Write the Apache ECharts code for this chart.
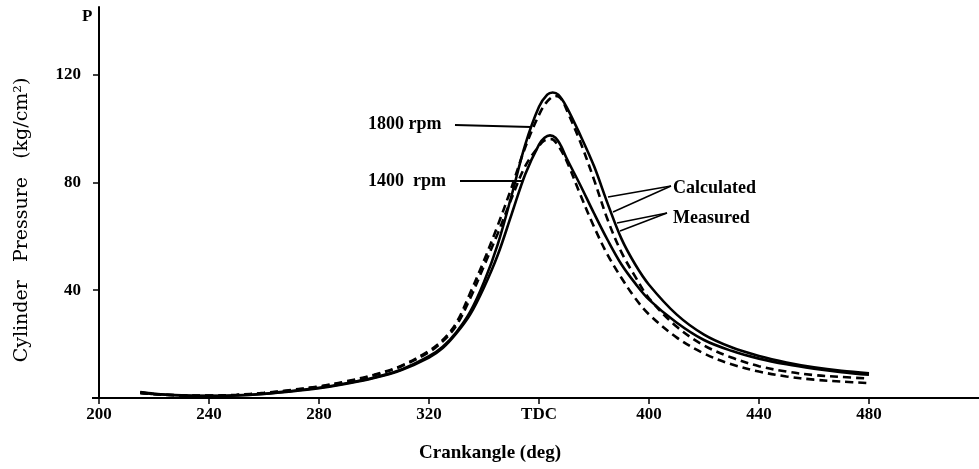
<!DOCTYPE html>
<html>
<head>
<meta charset="utf-8">
<script src="https://cdn.jsdelivr.net/npm/echarts@6/dist/echarts.min.js"></script>
<style>
html, body { margin: 0; padding: 0; background: #fff; }
#chart { width: 979px; height: 469px; }
</style>
</head>
<body>
<div id="chart"></div>
<script>
// crank angle (deg) and cylinder pressure (kg/cm2)
var ang1800Meas = [215,220,230,240,250,260,270,280,290,300,310,320,325,330,335,340,345,350,355,360,363,365,367,370,375,380,385,390,395,400,410,420,430,440,450,460,470,480];
var p1800Meas   = [2.2,1.6,1.0,0.8,1.0,1.6,2.6,3.8,5.5,7.6,10.6,15.5,19,24.5,32,43,57,75,94,108,112.5,113.3,112.5,108,97.5,86,72,59,49.5,42,31,23.5,18.8,15.6,13.2,11.4,10.1,9.2];

var ang1800Calc = [215,220,230,240,250,260,270,280,290,300,310,320,325,330,335,340,345,350,355,360,363,366,368,370,375,380,385,390,395,400,410,420,430,440,450,460,470,480];
var p1800Calc   = [2.0,1.5,1.0,0.9,1.2,1.9,3.0,4.3,6.2,8.6,12,17.5,21.5,28,39,51,64,78,93,105,110,112,111,107,95,81,66,54,45,37,26.5,19.5,15,11.8,9.8,8.5,7.8,7.2];

var ang1400Meas = [215,220,230,240,250,260,270,280,290,300,310,320,325,330,335,340,345,350,355,360,362,364,366,368,370,375,380,385,390,395,400,410,420,430,440,450,460,470,480];
var p1400Meas   = [2.0,1.5,0.9,0.7,0.9,1.5,2.4,3.6,5.3,7.4,10.4,15,18.5,24,31,41,53,68,83,94,96.5,97.4,96.5,93.5,89,79,68.5,58.5,49.5,42.5,36.5,28,21.5,17.5,14.6,12.5,10.9,9.6,8.6];

var ang1400Calc = [215,220,230,240,250,260,270,280,290,300,310,320,325,330,335,340,345,350,355,360,362,364.5,367,370,375,380,385,390,395,400,410,420,430,440,450,460,470,480];
var p1400Calc   = [1.8,1.4,0.9,0.8,1.1,1.8,2.9,4.2,6,8.4,11.8,17,21,27,37,49,61,74,86,93.5,95.5,96,93.5,88,75.5,63.5,53,44.5,37,31,22.5,16.5,12.5,9.8,8.0,6.8,6.1,5.5];

var xTicks = [200,240,280,320,360,400,440,480];
var yTicks = [0,40,80,120];
var yLabels = [40,80,120];

function pairs(xs, ys) {
    return xs.map(function (x, i) { return [x, ys[i]]; });
}

var font = '"Liberation Serif", "DejaVu Serif", serif';
var chart = echarts.init(document.getElementById('chart'));

function curve(name, xs, ys, dashed) {
    return {
        name: name,
        type: 'line',
        smooth: 0.35,
        showSymbol: false,
        silent: true,
        data: pairs(xs, ys),
        lineStyle: {
            color: '#000',
            width: 2.6,
            type: dashed ? [8, 5] : 'solid'
        }
    };
}

var option = {
    animation: false,
    backgroundColor: '#fff',
    grid: { left: 99, right: 0, top: 7, bottom: 71 },
    xAxis: {
        type: 'value',
        min: 200,
        max: 520,
        axisLine: { show: true, lineStyle: { color: '#000', width: 2 } },
        axisTick: { show: true, customValues: xTicks, length: 6, lineStyle: { color: '#000', width: 1.5 } },
        axisLabel: {
            customValues: xTicks,
            color: '#000',
            fontFamily: font,
            fontWeight: 'bold',
            fontSize: 17,
            margin: 8,
            formatter: function (v) { return v === 360 ? 'TDC' : String(v); }
        },
        splitLine: { show: false }
    },
    yAxis: {
        type: 'value',
        min: 0,
        max: 145,
        axisLine: { show: true, lineStyle: { color: '#000', width: 2 } },
        axisTick: { show: true, customValues: yTicks, length: 6, lineStyle: { color: '#000', width: 1.5 } },
        axisLabel: {
            customValues: yLabels,
            color: '#000',
            fontFamily: font,
            fontWeight: 'bold',
            fontSize: 17,
            margin: 18
        },
        splitLine: { show: false }
    },
    graphic: [
        { type: 'text', left: 82, top: 8, style: { text: 'P', fill: '#000', font: 'bold 17px ' + font } },
        // x axis line runs a little past the y axis on the left
        { type: 'line', shape: { x1: 92, y1: 398, x2: 100, y2: 398 }, style: { stroke: '#000', lineWidth: 2 } },
        { type: 'text', x: 490, y: 453, style: { text: 'Crankangle (deg)', fill: '#000', font: 'bold 19px ' + font, textAlign: 'center', textVerticalAlign: 'middle' } },
        { type: 'text', x: 22, y: 220, rotation: Math.PI / 2, style: { text: 'Cylinder   Pressure   (kg/cm²)', fill: '#000', font: '19px "DejaVu Serif", serif', textAlign: 'center', textVerticalAlign: 'middle' } },
        // rpm labels
        { type: 'text', x: 368, y: 124, style: { text: '1800 rpm', fill: '#000', font: 'bold 18px ' + font, textVerticalAlign: 'middle' } },
        { type: 'line', shape: { x1: 455, y1: 125, x2: 531, y2: 127 }, style: { stroke: '#000', lineWidth: 2 } },
        { type: 'text', x: 368, y: 181, style: { text: '1400  rpm', fill: '#000', font: 'bold 18px ' + font, textVerticalAlign: 'middle' } },
        { type: 'line', shape: { x1: 460, y1: 181, x2: 523, y2: 181 }, style: { stroke: '#000', lineWidth: 2 } },
        // calculated / measured pointers
        { type: 'text', x: 673, y: 188, style: { text: 'Calculated', fill: '#000', font: 'bold 18px ' + font, textVerticalAlign: 'middle' } },
        { type: 'line', shape: { x1: 671, y1: 186, x2: 608, y2: 197 }, style: { stroke: '#000', lineWidth: 1.5 } },
        { type: 'line', shape: { x1: 671, y1: 186, x2: 613, y2: 212 }, style: { stroke: '#000', lineWidth: 1.5 } },
        { type: 'text', x: 673, y: 218, style: { text: 'Measured', fill: '#000', font: 'bold 18px ' + font, textVerticalAlign: 'middle' } },
        { type: 'line', shape: { x1: 667, y1: 213, x2: 617, y2: 223 }, style: { stroke: '#000', lineWidth: 1.5 } },
        { type: 'line', shape: { x1: 667, y1: 213, x2: 620, y2: 231 }, style: { stroke: '#000', lineWidth: 1.5 } }
    ],
    series: [
        curve('1800 rpm Measured', ang1800Meas, p1800Meas, false),
        curve('1800 rpm Calculated', ang1800Calc, p1800Calc, true),
        curve('1400 rpm Measured', ang1400Meas, p1400Meas, false),
        curve('1400 rpm Calculated', ang1400Calc, p1400Calc, true)
    ]
};

chart.setOption(option);
</script>
</body>
</html>
